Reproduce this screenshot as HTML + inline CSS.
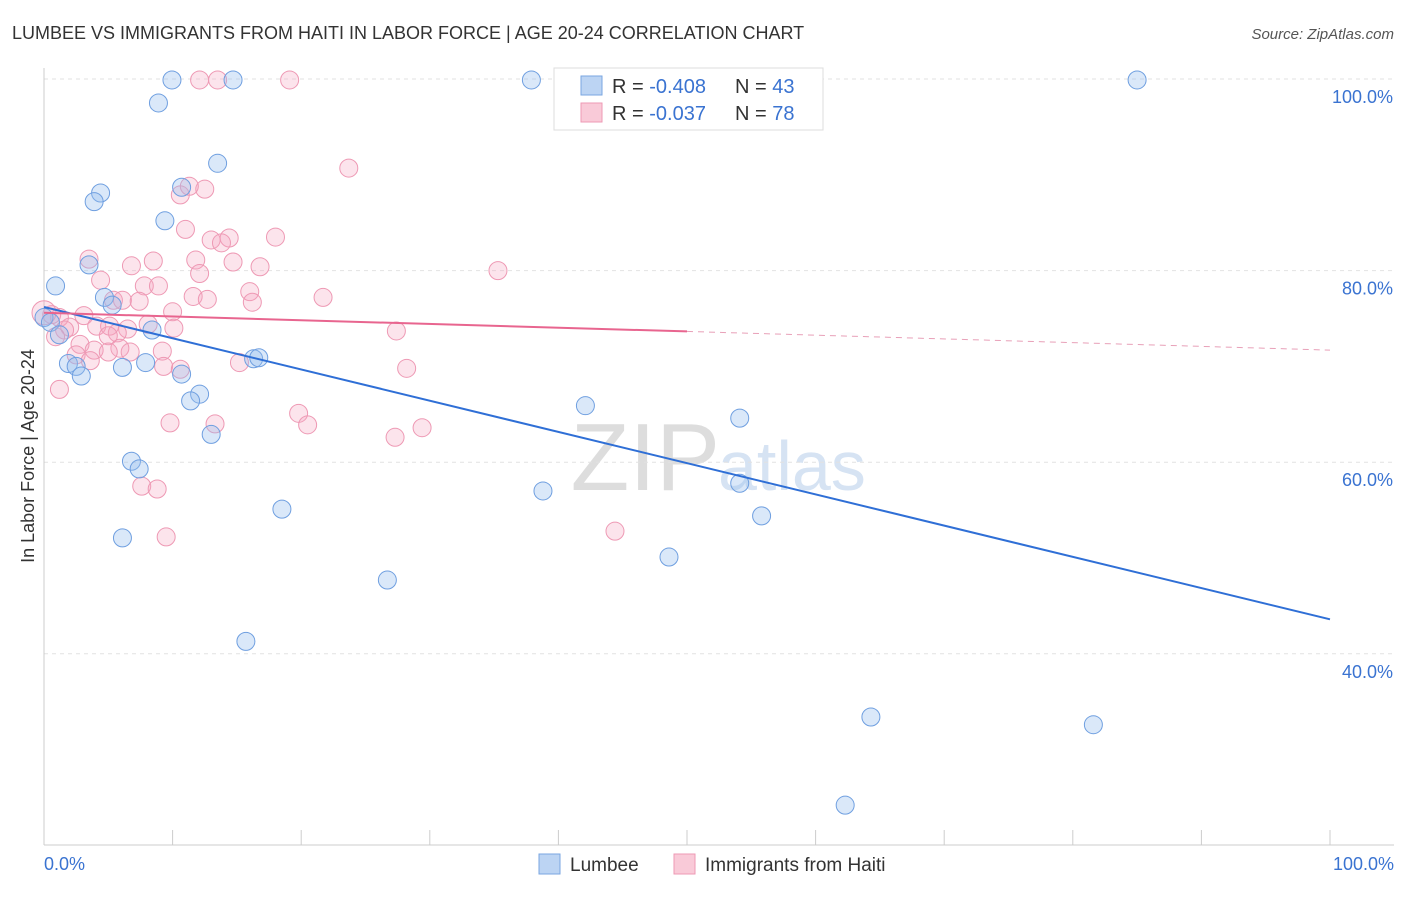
<!DOCTYPE html>
<html><head><meta charset="utf-8"><style>
body{margin:0;background:#fff;font-family:"Liberation Sans",sans-serif;}
svg text{font-family:"Liberation Sans",sans-serif;}
</style></head><body>
<svg id="c" width="1406" height="892">
<text x="12" y="39" font-size="18" fill="#333">LUMBEE VS IMMIGRANTS FROM HAITI IN LABOR FORCE | AGE 20-24 CORRELATION CHART</text>
<text x="1394" y="39" font-size="15" fill="#555" font-style="italic" text-anchor="end">Source: ZipAtlas.com</text>
<text x="720" y="490" font-size="96" fill="#ddd" font-family="Liberation Serif" text-anchor="end">ZIP</text>
<text x="718" y="490" font-size="70" fill="#d6e3f3">atlas</text>
<g id="grid"></g><g id="axes"></g><g id="pts"></g><g id="lines"></g>
<g>
<rect x="554" y="68" width="269" height="62" fill="#fff" stroke="#ddd"/>
<rect x="581" y="76" width="21" height="19" fill="#bcd4f3" stroke="#7aa6e0"/>
<rect x="581" y="103" width="21" height="19" fill="#f9cad8" stroke="#ee99b4"/>
<text x="612" y="93" font-size="20" fill="#333">R = <tspan fill="#3a73d1">-0.408</tspan></text>
<text x="735" y="93" font-size="20" fill="#333">N = <tspan fill="#3a73d1">43</tspan></text>
<text x="612" y="120" font-size="20" fill="#333">R = <tspan fill="#3a73d1">-0.037</tspan></text>
<text x="735" y="120" font-size="20" fill="#333">N = <tspan fill="#3a73d1">78</tspan></text>
</g>
<text x="44" y="870" font-size="18" fill="#3a73d1">0.0%</text>
<text x="1394" y="870" font-size="18" fill="#3a73d1" text-anchor="end">100.0%</text>
<g>
<rect x="539" y="854" width="21" height="20" fill="#bcd4f3" stroke="#7aa6e0"/>
<text x="570" y="871" font-size="19" fill="#333">Lumbee</text>
<rect x="674" y="854" width="21" height="20" fill="#f9cad8" stroke="#ee99b4"/>
<text x="705" y="871" font-size="19" fill="#333">Immigrants from Haiti</text>
</g>
<text transform="translate(34,456) rotate(-90)" font-size="18" fill="#333" text-anchor="middle">In Labor Force | Age 20-24</text>
</svg>
<script>
const yTicks=[100,80,60,40];
const yTickLabels=["100.0%","80.0%","60.0%","40.0%"];
const blueX=[9.95,14.7,37.9,85.0,8.9,13.5,10.7,4.4,3.9,9.4,0.9,3.5,4.7,5.3,0,0.5,1.2,8.4,1.9,2.5,2.9,6.1,7.9,10.7,16.3,16.7,12.1,11.4,13.0,42.1,54.1,6.8,7.4,38.8,54.1,55.8,18.5,6.1,48.6,26.7,15.7,64.3,81.6,62.3];
const blueY=[99.9,99.9,99.9,99.9,97.5,91.2,88.7,88.1,87.2,85.2,78.4,80.6,77.2,76.4,75.1,74.6,73.3,73.8,70.3,70.0,69.0,69.9,70.4,69.2,70.8,70.9,67.1,66.4,62.9,65.9,64.6,60.1,59.3,57.0,57.8,54.4,55.1,52.1,50.1,47.7,41.3,33.4,32.6,24.2];
const pinkX=[12.1,13.5,19.1,23.7,10.6,12.5,11.3,11.0,13.0,14.4,13.8,18.0,11.8,8.5,6.8,3.5,12.1,14.7,16.8,35.3,4.4,7.8,8.9,16.0,11.6,12.7,16.2,21.7,5.4,6.1,7.4,10.0,3.1,1.2,0.6,2.0,1.6,4.1,5.1,6.5,5.7,8.1,10.1,0.9,2.8,3.9,5.0,5.9,6.7,9.2,2.5,3.6,5.0,9.3,10.6,15.2,27.4,28.2,1.2,19.8,20.5,9.8,13.3,27.3,29.4,7.6,8.8,44.4,9.5,0];
const pinkY=[99.9,99.9,99.9,90.7,87.9,88.5,88.8,84.3,83.2,83.4,82.9,83.5,81.1,81.0,80.5,81.2,79.7,80.9,80.4,80.0,79.0,78.4,78.4,77.8,77.3,77.0,76.7,77.2,76.9,76.9,76.8,75.7,75.3,75.1,75.4,74.1,73.8,74.2,74.2,73.9,73.5,74.4,74.0,73.1,72.3,71.7,73.2,71.9,71.5,71.6,71.2,70.6,71.5,70.0,69.7,70.4,73.7,69.8,67.6,65.1,63.9,64.1,64.0,62.6,63.6,57.5,57.2,52.8,52.2,75.6];
const blueTrend=[76.2,43.6];
const pinkTrend=[75.6,71.7];
const NS="http://www.w3.org/2000/svg";
const X=v=>44+v*12.86, Y=v=>79+(100-v)*9.58;
function mk(t,a,p){const e=document.createElementNS(NS,t);for(const k in a)e.setAttribute(k,a[k]);p.appendChild(e);return e;}
const g=document.getElementById('grid'),ax=document.getElementById('axes'),pts=document.getElementById('pts'),ln=document.getElementById('lines');
yTicks.forEach((t,i)=>{
 const l=mk('line',{x1:44,x2:1394,y1:Y(t),y2:Y(t),stroke:'#e2e2e2','stroke-dasharray':'4,4'},g);
 
 
 const tx=mk('text',{x:1393,y:Y(t)+24,'font-size':18,fill:'#3a73d1','text-anchor':'end'},g);
 tx.textContent=yTickLabels[i];
 
 
});
const xa=mk('line',{x1:44,x2:1394,y1:845,y2:845,stroke:'#ccc'},ax);


const ya=mk('line',{x1:44,x2:44,y1:68,y2:845,stroke:'#ccc'},ax);


for(let i=0;i<=10;i++){const t=mk('line',{x1:X(i*10),x2:X(i*10),y1:830,y2:845,stroke:'#ccc'},ax);
 
 }
pinkX.forEach((x,i)=>{const c=mk('circle',{cx:X(x),cy:Y(pinkY[i]),r:i==pinkX.length-1?12:9,fill:'rgba(244,166,192,0.3)',stroke:'#ee99b4','stroke-width':1},pts);
 
 });
blueX.forEach((x,i)=>{const c=mk('circle',{cx:X(x),cy:Y(blueY[i]),r:9,fill:'rgba(150,188,238,0.35)',stroke:'#6f9fe0','stroke-width':1},pts);
 
 });
const bl=mk('line',{x1:X(0),y1:Y(blueTrend[0]),x2:X(100),y2:Y(blueTrend[1]),stroke:'#2f6fd6','stroke-width':2},ln);


const pm=v=>pinkTrend[0]+(pinkTrend[1]-pinkTrend[0])*v/100;
const pl=mk('line',{x1:X(0),y1:Y(pm(0)),x2:X(50),y2:Y(pm(50)),stroke:'#e8658f','stroke-width':2},ln);


const pd=mk('line',{x1:X(50),y1:Y(pm(50)),x2:X(100),y2:Y(pm(100)),stroke:'#e8a0b8','stroke-width':1,'stroke-dasharray':'6,5'},ln);


</script>
</body></html>
